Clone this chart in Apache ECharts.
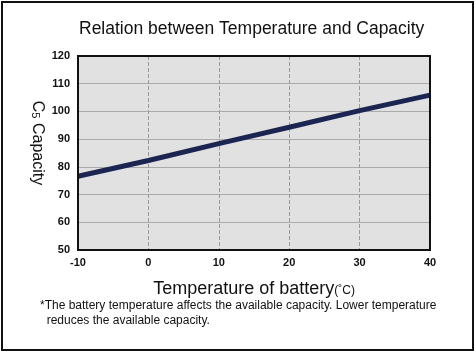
<!DOCTYPE html>
<html>
<head>
<meta charset="utf-8">
<script src="https://cdn.jsdelivr.net/npm/echarts@6/dist/echarts.min.js"></script>
<style>
  html, body { margin: 0; padding: 0; background: #fff; }
  #main { width: 476px; height: 354px; }
</style>
</head>
<body>
<div id="main"></div>
<script>
// data
var temps = [-10, 0, 10, 20, 30, 40];
var capacity = [76.6, 82.3, 88.4, 94.3, 100.3, 105.9];

var chart = echarts.init(document.getElementById('main'));
var font = 'Liberation Sans, Arial, sans-serif';

chart.setOption({
  animation: false,
  title: {
    text: 'Relation between Temperature and Capacity',
    left: 74,
    top: 15,
    textStyle: { color: '#111', fontSize: 17.5, fontWeight: 'normal', fontFamily: font }
  },
  graphic: [
    {
      type: 'rect',
      shape: { x: 2, y: 2, width: 471, height: 348 },
      style: { fill: null, stroke: '#111', lineWidth: 2 }
    },
    {
      type: 'text',
      left: 40, top: 298,
      style: {
        text: '*The battery temperature affects the available capacity. Lower temperature\n  reduces the available capacity.',
        fill: '#111', font: '12px ' + font, lineHeight: 15
      }
    },
    {
      // frame of the plot area, drawn above the grid lines
      type: 'rect', z: 100, silent: true,
      shape: { x: 78, y: 56, width: 352, height: 194 },
      style: { fill: null, stroke: '#111', lineWidth: 2 }
    }
  ],
  grid: {
    left: 78, top: 56, right: 46, bottom: 104, show: true,
    backgroundColor: '#e1e1e1', borderWidth: 0
  },
  xAxis: {
    type: 'value', min: -10, max: 40, interval: 10,
    name: 'Temperature of battery{u|(˚C)}',
    nameLocation: 'middle', nameGap: 30,
    nameTextStyle: { color: '#111', fontSize: 18, fontFamily: font,
      rich: { u: { fontSize: 12, color: '#111', fontFamily: font, padding: [4, 0, 0, 0] } } },
    axisLine: { show: true, onZero: false, lineStyle: { color: '#111', width: 2 } },
    axisTick: { show: false },
    axisLabel: { color: '#111', fontSize: 11, fontWeight: 'bold', fontFamily: font, margin: 7 },
    splitLine: { show: true, showMinLine: false, showMaxLine: false,
      lineStyle: { color: '#999', type: 'dashed', width: 1 } }
  },
  yAxis: {
    type: 'value', min: 50, max: 120, interval: 10,
    name: 'C{s|5} Capacity',
    nameLocation: 'middle', nameRotate: -90, nameGap: 33, nameMoveOverlap: false,
    nameTextStyle: { color: '#111', fontSize: 16, fontFamily: font, padding: [0, 20, 0, 0],
      rich: { s: { fontSize: 11, color: '#111', fontFamily: font, padding: [0, 0, -4, 0] } } },
    axisLine: { show: true, onZero: false, lineStyle: { color: '#111', width: 2 } },
    axisTick: { show: false },
    axisLabel: { color: '#111', fontSize: 11, fontWeight: 'bold', fontFamily: font, margin: 8 },
    splitLine: { show: true, showMinLine: false, showMaxLine: false,
      lineStyle: { color: '#aaa', width: 1 } }
  },
  series: [{
    type: 'line',
    data: temps.map(function (t, i) { return [t, capacity[i]]; }),
    symbol: 'none',
    lineStyle: { color: '#1c2552', width: 5 }
  }]
});
</script>
</body>
</html>
